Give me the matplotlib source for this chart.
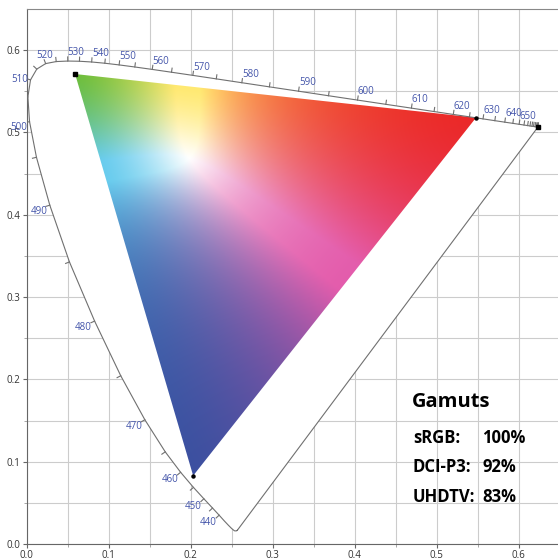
import numpy as np
import matplotlib
matplotlib.use('Agg')
import matplotlib.pyplot as plt
from matplotlib.patches import Polygon

plt.rcParams['font.family'] = ['Open Sans', 'DejaVu Sans']

# CIE 1931 2 deg spectral locus (x, y chromaticity), 5 nm steps 380..700
wavelengths = list(range(380, 705, 5))
locus_x = [0.1741, 0.1740, 0.1738, 0.1736, 0.1733, 0.1730, 0.1726, 0.1721, 0.1714, 0.1703,
           0.1689, 0.1669, 0.1644, 0.1611, 0.1566, 0.1510, 0.1440, 0.1355, 0.1241, 0.1096,
           0.0913, 0.0687, 0.0454, 0.0235, 0.0082, 0.0039, 0.0139, 0.0389, 0.0743, 0.1142,
           0.1547, 0.1929, 0.2296, 0.2658, 0.3016, 0.3373, 0.3731, 0.4087, 0.4441, 0.4788,
           0.5125, 0.5448, 0.5752, 0.6029, 0.6270, 0.6482, 0.6658, 0.6801, 0.6915, 0.7006,
           0.7079, 0.7140, 0.7190, 0.7230, 0.7260, 0.7283, 0.7300, 0.7311, 0.7320, 0.7327,
           0.7334, 0.7340, 0.7344, 0.7346, 0.7347]
locus_y = [0.0050, 0.0050, 0.0049, 0.0049, 0.0048, 0.0048, 0.0048, 0.0048, 0.0051, 0.0058,
           0.0069, 0.0086, 0.0109, 0.0138, 0.0177, 0.0227, 0.0297, 0.0399, 0.0578, 0.0868,
           0.1327, 0.2007, 0.2950, 0.4127, 0.5384, 0.6548, 0.7502, 0.8120, 0.8338, 0.8262,
           0.8059, 0.7816, 0.7543, 0.7243, 0.6923, 0.6589, 0.6245, 0.5896, 0.5547, 0.5202,
           0.4866, 0.4544, 0.4242, 0.3965, 0.3725, 0.3514, 0.3340, 0.3197, 0.3083, 0.2993,
           0.2920, 0.2859, 0.2809, 0.2770, 0.2740, 0.2717, 0.2700, 0.2689, 0.2680, 0.2673,
           0.2666, 0.2660, 0.2656, 0.2654, 0.2653]

# measured display gamut corners in u'v' (red, green, blue)
gamut_u = [0.548, 0.059, 0.203]
gamut_v = [0.518, 0.571, 0.083]
# how the corners look in the picture
corner_colors = [(235, 40, 40), (110, 190, 60), (60, 80, 160)]

label_nm = list(range(440, 660, 10))
tick_nm = list(range(440, 705, 5))

gamut_names = ['sRGB:', 'DCI-P3:', 'UHDTV:']
gamut_pct = ['100%', '92%', '83%']


def xy_to_uv(x, y):
    d = -2 * x + 12 * y + 3
    return 4 * x / d, 9 * y / d


def uv_to_xy(u, v):
    d = 6 * u - 16 * v + 12
    return 9 * u / d, 4 * v / d


lx = np.array(locus_x)
ly = np.array(locus_y)
lu, lv = xy_to_uv(lx, ly)

fig = plt.figure(figsize=(5.58, 5.60), dpi=100)
ax = fig.add_axes([26.7 / 558, 16 / 560, 533 / 558, 535 / 560])
ax.set_xlim(0, 0.65)
ax.set_ylim(0, 0.65)

ax.set_xticks(np.arange(0, 0.61, 0.1))
ax.set_yticks(np.arange(0, 0.61, 0.1))
ax.set_xticks(np.arange(0.05, 0.65, 0.1), minor=True)
ax.set_yticks(np.arange(0.05, 0.65, 0.1), minor=True)
ax.set_xticklabels(['%.1f' % t for t in np.arange(0, 0.61, 0.1)])
ax.set_yticklabels(['%.1f' % t for t in np.arange(0, 0.61, 0.1)])
ax.grid(True, which='both', color='#cccccc', lw=0.8, zorder=0)
ax.set_axisbelow(True)
ax.tick_params(which='major', length=3, color='#666666', labelsize=7, labelcolor='#333333', pad=1.5)
ax.tick_params(which='minor', length=2, color='#999999')
for s in ['left', 'bottom']:
    ax.spines[s].set_color('#666666')
ax.spines['top'].set_color('#888888')
ax.spines['right'].set_visible(False)

# white inside spectral locus
ax.add_patch(Polygon(np.column_stack([lu, lv]), closed=True, fc='white', ec='none', zorder=1))
ax.plot(np.append(lu, lu[0]), np.append(lv, lv[0]), color='#707070', lw=0.8, zorder=3)

# colour fill of gamut triangle: chromaticity -> display rgb (corners as primaries, D65 white)
gx, gy = uv_to_xy(np.array(gamut_u), np.array(gamut_v))
P = np.array([gx / gy, np.ones(3), (1 - gx - gy) / gy])
wx, wy = 0.3127, 0.3290
S = np.linalg.solve(P, np.array([wx / wy, 1.0, (1 - wx - wy) / wy]))
Minv = np.linalg.inv(P * S)
T = np.array(corner_colors, dtype=float).T / 255.0
mix = (1 - T) @ np.linalg.inv(1 - np.eye(3))

u0, u1 = min(gamut_u) - 0.01, max(gamut_u) + 0.01
v0, v1 = min(gamut_v) - 0.01, max(gamut_v) + 0.01
uu, vv = np.meshgrid(np.linspace(u0, u1, 500), np.linspace(v0, v1, 500))
x, y = uv_to_xy(uu, vv)
XYZ = np.stack([x / y, np.ones_like(x), (1 - x - y) / y])
rgb = np.clip(np.tensordot(Minv, XYZ, axes=1), 0, None)
# soft maximum keeps the white area round
k = 5
rgb = rgb / np.mean(rgb ** k, axis=0) ** (1 / k)
c = np.clip(rgb, 0, 1) ** 1.25
out = 1 - np.tensordot(mix, 1 - c, axes=1)
# nudge secondary hues (cyan towards sky blue, yellow lighter, magenta pinker)
cr, cg, cb = c
out += (cg * cb * (1 - cr))[None] * np.array([0.04, -0.15, 0.08])[:, None, None]
out += (cr * cg * (1 - cb))[None] * np.array([-0.04, 0.12, 0.06])[:, None, None]
out += (cr * cb * (1 - cg))[None] * np.array([0.03, 0.0, -0.10])[:, None, None]
img = np.clip(out, 0, 1).transpose(1, 2, 0)
tri = Polygon(np.column_stack([gamut_u, gamut_v]), closed=True, fc='none', ec='none')
ax.add_patch(tri)
im = ax.imshow(img, origin='lower', extent=[u0, u1, v0, v1], interpolation='bilinear',
               aspect='auto', zorder=2)
im.set_clip_path(tri)

# vertex markers
ax.plot(gamut_u[1], gamut_v[1], 's', color='black', ms=3.5, zorder=5)
ax.plot([gamut_u[0], gamut_u[2]], [gamut_v[0], gamut_v[2]], 'o', color='black', ms=2.2, ls='none', zorder=5)
ax.plot(lu[-1], lv[-1], 's', color='black', ms=2.2, zorder=5)

# wavelength ticks and labels
du = np.gradient(lu)
dv = np.gradient(lv)
nrm = np.hypot(du, dv)
nu = -dv / nrm
nv = du / nrm
for wl in tick_nm:
    i = wavelengths.index(wl)
    ax.plot([lu[i], lu[i] + nu[i] * 0.005], [lv[i], lv[i] + nv[i] * 0.005],
            color='#707070', lw=0.8, zorder=3)
for wl in label_nm:
    i = wavelengths.index(wl)
    if nu[i] < -0.5:
        ha = 'right'
    elif nu[i] < -0.1:
        ha = 'center'
    else:
        ha = 'left'
    if nv[i] > 0.5:
        va = 'bottom'
    elif nv[i] > 0.2:
        va = 'center'
    else:
        va = 'top'
    ax.annotate(str(wl), (lu[i], lv[i]), xytext=(nu[i] * 2, nv[i] * 2), textcoords='offset points',
                ha=ha, va=va, fontsize=7, color='#4455aa', zorder=4)

# gamut coverage text
ax.text(0.470, 0.1725, 'Gamuts', fontsize=14.5, fontweight='bold', va='center', ha='left', zorder=6)
for j, (name, pct) in enumerate(zip(gamut_names, gamut_pct)):
    yy = 0.1288 - j * 0.0358
    ax.text(0.471, yy, name, fontsize=12, fontweight='bold', va='center', ha='left', zorder=6)
    ax.text(0.5555, yy, pct, fontsize=12, fontweight='bold', va='center', ha='left', zorder=6)

fig.savefig('out.png', dpi=100)
